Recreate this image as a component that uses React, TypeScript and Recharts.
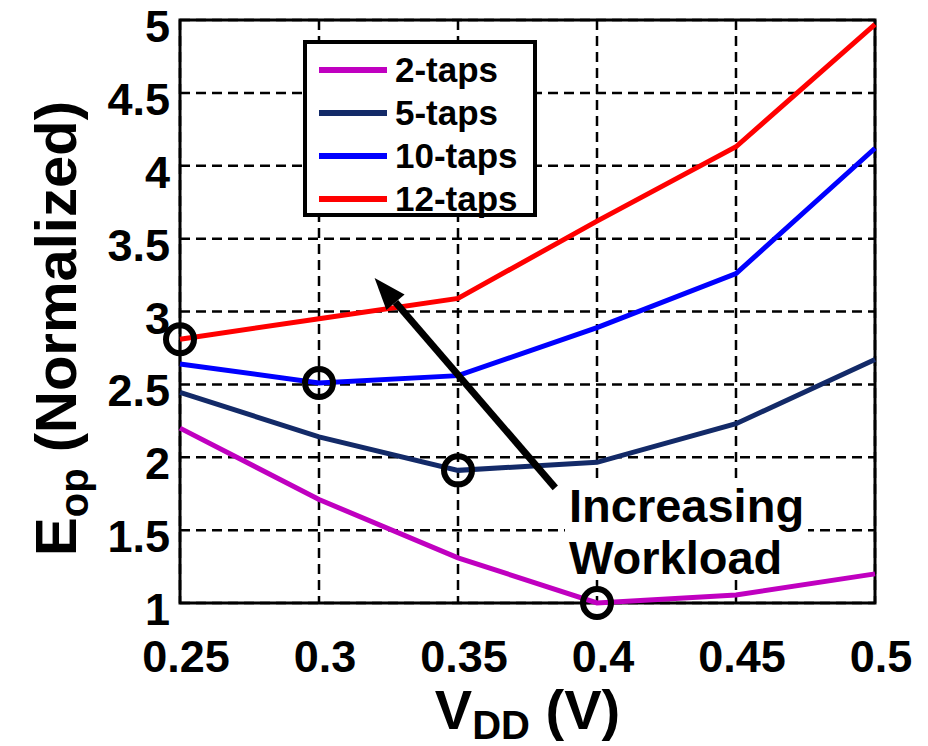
import React from "react";
import {
  LineChart,
  Line,
  XAxis,
  YAxis,
  CartesianGrid,
  Legend,
  ReferenceDot,
  ReferenceLine,
  ReferenceArea,
} from "recharts";

const vdd = [0.25, 0.3, 0.35, 0.4, 0.45, 0.5];
const taps2 = [2.2, 1.71, 1.31, 1.0, 1.055, 1.2];
const taps5 = [2.445, 2.14, 1.91, 1.965, 2.23, 2.67];
const taps10 = [2.64, 2.51, 2.56, 2.89, 3.26, 4.12];
const taps12 = [2.81, 2.95, 3.09, 3.62, 4.13, 4.97];

const xTicks = [0.25, 0.3, 0.35, 0.4, 0.45, 0.5];
const yTicks = [1, 1.5, 2, 2.5, 3, 3.5, 4, 4.5, 5];

// minimum-energy points (circled)
const minPoints = [
  { x: 0.25, y: 2.81 },
  { x: 0.3, y: 2.51 },
  { x: 0.35, y: 1.91 },
  { x: 0.4, y: 1.0 },
];

const arrowFrom = { x: 0.385, y: 1.79 };
const arrowTo = { x: 0.32, y: 3.23 };

const series = [
  { key: "t2", name: "2-taps", color: "#c000c0" },
  { key: "t5", name: "5-taps", color: "#132a68" },
  { key: "t10", name: "10-taps", color: "#0000ff" },
  { key: "t12", name: "12-taps", color: "#ff0000" },
];

const data = vdd.map((v, i) => ({
  v,
  t2: taps2[i],
  t5: taps5[i],
  t10: taps10[i],
  t12: taps12[i],
}));

const FONT = "'Liberation Sans', Arial, sans-serif";

const XTick = (props: any) => {
  const { x, y, payload } = props;
  return (
    <text x={x + 6} y={y + 69} textAnchor="middle" fontFamily={FONT} fontWeight="bold" fontSize={45} fill="#000">
      {String(payload.value)}
    </text>
  );
};

const YTick = (props: any) => {
  const { x, y, payload } = props;
  return (
    <text x={x} y={y + 22} textAnchor="end" fontFamily={FONT} fontWeight="bold" fontSize={45} fill="#000">
      {String(payload.value)}
    </text>
  );
};

const YLabel = (props: any) => {
  const vb = props.viewBox || {};
  const cx = 76;
  const cy = vb.y + vb.height / 2 + 17;
  return (
    <text
      transform={`translate(${cx},${cy}) rotate(-90)`}
      textAnchor="middle"
      fontFamily={FONT}
      fontWeight="bold"
      fontSize={58}
      fill="#000"
    >
      E<tspan fontSize={40} dy={12}>op</tspan>
      <tspan dy={-12}> (Normalized)</tspan>
    </text>
  );
};

const XLabel = (props: any) => {
  const vb = props.viewBox || {};
  const cx = vb.x + vb.width / 2;
  return (
    <text x={cx} y={729} textAnchor="middle" fontFamily={FONT} fontWeight="bold" fontSize={56} fill="#000">
      V<tspan fontSize={40} dy={10}>DD</tspan>
      <tspan dy={-10}> (V)</tspan>
    </text>
  );
};

const LegendBox = () => (
  <div
    style={{
      border: "4px solid #000",
      background: "#fff",
      width: 226,
      height: 169,
      boxSizing: "content-box",
    }}
  >
    {series.map((s, i) => (
      <div
        key={s.key}
        style={{ display: "flex", alignItems: "center", height: 42, marginTop: i === 0 ? 5 : 1 }}
      >
        <div style={{ width: 68, height: 6, background: s.color, marginLeft: 12, marginRight: 8 }} />
        <span style={{ fontFamily: FONT, fontWeight: "bold", fontSize: 35, color: "#000", lineHeight: "42px" }}>
          {s.name}
        </span>
      </div>
    ))}
  </div>
);

const Arrow = (props: any) => {
  const { x1, y1, x2, y2 } = props;
  const ang = Math.atan2(y2 - y1, x2 - x1);
  const len = 32;
  const half = 12;
  const bx = x2 - len * Math.cos(ang);
  const by = y2 - len * Math.sin(ang);
  const px = -Math.sin(ang) * half;
  const py = Math.cos(ang) * half;
  return (
    <g>
      <line x1={x1} y1={y1} x2={bx} y2={by} stroke="#000" strokeWidth={7} />
      <polygon points={`${x2},${y2} ${bx + px},${by + py} ${bx - px},${by - py}`} fill="#000" />
    </g>
  );
};

const Ring = (props: any) => (
  <ellipse cx={props.cx} cy={props.cy} rx={14} ry={14} fill="none" stroke="#000" strokeWidth={6} />
);

export default function App() {
  return (
    <div style={{ position: "absolute", left: 0, top: 0, width: 928, height: 746, background: "#fff" }}>
      <LineChart
        width={928}
        height={746}
        data={data}
        margin={{ top: 20, right: 53, left: 0, bottom: 0 }}
      >
        <CartesianGrid stroke="#000" strokeWidth={2.5} strokeDasharray="10 6" />
        <XAxis
          dataKey="v"
          type="number"
          domain={[0.25, 0.5]}
          ticks={xTicks}
          height={143}
          tickSize={0}
          tickMargin={0}
          axisLine={false}
          tickLine={false}
          tick={<XTick />}
          label={<XLabel />}
        />
        <YAxis
          type="number"
          domain={[1, 5]}
          ticks={yTicks}
          width={180}
          tickSize={0}
          tickMargin={10}
          axisLine={false}
          tickLine={false}
          tick={<YTick />}
          label={<YLabel />}
          interval={0}
        />
        <ReferenceArea x1={0.25} x2={0.5} y1={1} y2={5} fill="none" stroke="#000" strokeWidth={3} />
        {series.map((s) => (
          <Line
            key={s.key}
            dataKey={s.key}
            name={s.name}
            stroke={s.color}
            strokeWidth={5}
            dot={false}
            activeDot={false}
            isAnimationActive={false}
          />
        ))}
        <ReferenceLine
          segment={[arrowFrom, arrowTo]}
          ifOverflow="visible"
          shape={(p: any) => <Arrow {...p} />}
        />
        {minPoints.map((p, i) => (
          <ReferenceDot key={i} x={p.x} y={p.y} ifOverflow="visible" shape={(sp: any) => <Ring {...sp} />} />
        ))}
        <Legend
          layout="vertical"
          align="center"
          verticalAlign="middle"
          content={<LegendBox />}
          wrapperStyle={{ position: "absolute", left: 303, top: 40, width: "auto" }}
        />
      </LineChart>
      <div
        style={{
          position: "absolute",
          left: 565,
          top: 480,
          height: 94,
          padding: "0 4px",
          background: "#fff",
          fontFamily: FONT,
          fontWeight: "bold",
          fontSize: 47,
          lineHeight: "52px",
          color: "#000",
          pointerEvents: "none",
          overflow: "visible",
        }}
      >
        Increasing
        <br />
        Workload
      </div>
    </div>
  );
}
